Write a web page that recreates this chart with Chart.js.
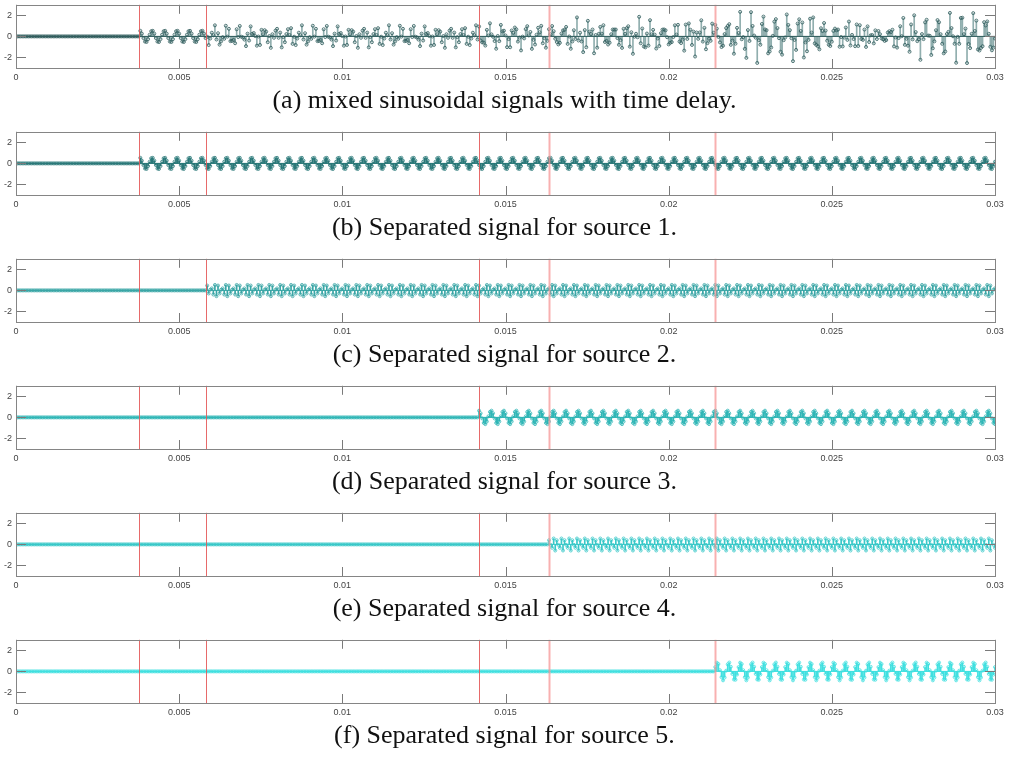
<!DOCTYPE html>
<html>
<head>
<meta charset="utf-8">
<script src="https://cdn.jsdelivr.net/npm/chart.js@4.4.1/dist/chart.umd.min.js"></script>
<style>
    body { margin: 0; background: #fff; width: 1009px; height: 760px; position: relative; overflow: hidden; }
    canvas { position: absolute; left: 0; }
    .cap {
        position: absolute; left: 0; width: 1009px; text-align: center;
        font-family: "Liberation Serif", "Times New Roman", serif;
        font-size: 26px; line-height: 26px; color: #111;
    }
</style>
</head>
<body>
<script>
        const sampleRate = 21000;
        const timeSpan = 0.03;
        const xTicks = [0, 0.005, 0.01, 0.015, 0.02, 0.025, 0.03];
        const yTicks = [-2, 0, 2];

        // when each source switches on (also the red marker lines)
        const onsetTimes = [0.00377, 0.00582, 0.01419, 0.01633, 0.02142];

        // one repeating stretch of samples for each source
        const source1 = [0.53, 0.26, -0.16, -0.49, -0.53, -0.26, 0.16, 0.49];
        const source2 = [0.46, -0.29, 0.06, 0.19, -0.39, 0.52, -0.55];
        const source3 = [0.64, 0.39, -0.10, -0.52, -0.64, -0.39, 0.10, 0.52];
        const source4 = [0.39, -0.04, -0.32, 0.56, -0.58];
        const source5 = [0.41, 0.83, 0.70, 0.11, -0.55, -0.85, -0.58, 0.07, 0.67, 0.84, 0.44, -0.24, -0.77, -0.79, -0.30];

        const captions = [
            '(a) mixed sinusoidal signals with time delay.',
            '(b) Separated signal for source 1.',
            '(c) Separated signal for source 2.',
            '(d) Separated signal for source 3.',
            '(e) Separated signal for source 4.',
            '(f) Separated signal for source 5.'
        ];
        const markerColors = ['#2d5a5a', '#2a7878', '#3aa6a6', '#30b6b6', '#38c8c8', '#40e0e0'];
        const stemColors = ['rgba(70,120,120,0.6)', '#2a7878', '#3aa6a6', '#30b6b6', '#38c8c8', '#40e0e0'];

        const sources = [source1, source2, source3, source4, source5];
        const sampleCount = Math.round(timeSpan * sampleRate) + 1;
        const times = [];
        for (let n = 0; n < sampleCount; n++) times.push(n / sampleRate);

        const separated = sources.map((pattern, s) => {
            const start = Math.ceil(onsetTimes[s] * sampleRate);
            return times.map((t, n) => n >= start ? pattern[(n - start) % pattern.length] : 0);
        });
        const mixed = times.map((t, n) => separated.reduce((sum, sig) => sum + sig[n], 0));
        const panels = [mixed].concat(separated);

        const frameTicks = {
            id: 'frameTicks',
            afterDatasetsDraw(chart) {
                const ctx = chart.ctx;
                const a = chart.chartArea;
                const xs = chart.scales.x;
                const ys = chart.scales.y;
                ctx.save();

                onsetTimes.forEach((t, i) => {
                    const px = Math.round(xs.getPixelForValue(t)) + 0.5;
                    ctx.strokeStyle = i < 3 ? 'rgba(228,90,90,0.9)' : 'rgba(245,150,150,0.75)';
                    ctx.lineWidth = i < 3 ? 1 : 2;
                    ctx.beginPath();
                    ctx.moveTo(px, a.top);
                    ctx.lineTo(px, a.bottom);
                    ctx.stroke();
                });

                ctx.strokeStyle = '#7a7a7a';
                ctx.lineWidth = 1;
                ctx.beginPath();
                yTicks.forEach(v => {
                    const py = Math.round(ys.getPixelForValue(v)) + 0.5;
                    ctx.moveTo(a.left, py); ctx.lineTo(a.left + 10, py);
                    ctx.moveTo(a.right, py); ctx.lineTo(a.right - 10, py);
                });
                xTicks.forEach(v => {
                    const px = Math.round(xs.getPixelForValue(v)) + 0.5;
                    ctx.moveTo(px, a.bottom); ctx.lineTo(px, a.bottom - 9);
                    ctx.moveTo(px, a.top); ctx.lineTo(px, a.top + 9);
                });
                ctx.stroke();

                ctx.strokeStyle = '#858585';
                ctx.strokeRect(Math.round(a.left) + 0.5, Math.round(a.top) + 0.5,
                    Math.round(a.right - a.left), Math.round(a.bottom - a.top));
                ctx.restore();
            }
        };

        const tickFont = { family: '"Liberation Sans", Arial, sans-serif', size: 9 };

        function makePanel(idx) {
            const values = panels[idx];
            const canvas = document.createElement('canvas');
            canvas.width = 1009;
            canvas.height = 86;
            canvas.style.top = (127 * idx) + 'px';
            document.body.appendChild(canvas);

            const cap = document.createElement('div');
            cap.className = 'cap';
            cap.style.top = (87 + 127 * idx) + 'px';
            cap.textContent = captions[idx];
            document.body.appendChild(cap);

            const stems = values.map((v, i) => ({ x: times[i], y: [0, v] }));
            const points = values.map((v, i) => ({ x: times[i], y: v }));

            new Chart(canvas, {
                type: 'bar',
                data: {
                    datasets: [
                        {
                            type: 'bar',
                            data: stems,
                            backgroundColor: stemColors[idx],
                            barThickness: 1,
                            borderWidth: 0,
                            order: 3
                        },
                        {
                            type: 'line',
                            data: [{ x: 0, y: 0 }, { x: timeSpan, y: 0 }],
                            borderColor: markerColors[idx],
                            borderWidth: 1,
                            pointRadius: 0,
                            order: 2
                        },
                        {
                            type: 'scatter',
                            data: points,
                            showLine: false,
                            pointRadius: 1.5,
                            pointBorderWidth: 0.8,
                            pointBorderColor: markerColors[idx],
                            pointBackgroundColor: 'rgba(255,255,255,0)',
                            order: 1
                        }
                    ]
                },
                options: {
                    responsive: false,
                    animation: false,
                    events: [],
                    layout: { padding: { top: 4, right: 14, left: 0, bottom: 0 } },
                    plugins: { legend: { display: false }, tooltip: { enabled: false } },
                    scales: {
                        x: {
                            type: 'linear',
                            min: 0,
                            max: timeSpan,
                            offset: false,
                            grid: { display: false, drawTicks: false },
                            border: { display: false },
                            afterBuildTicks: s => { s.ticks = xTicks.map(v => ({ value: v })); },
                            afterFit: s => { s.height = 18; s.paddingLeft = 0; s.paddingRight = 0; },
                            ticks: {
                                font: tickFont, color: '#444', padding: 4,
                                maxRotation: 0, autoSkip: false,
                                callback: v => String(v)
                            }
                        },
                        y: {
                            min: -3,
                            max: 3,
                            grid: { display: false, drawTicks: false },
                            border: { display: false },
                            afterBuildTicks: s => { s.ticks = yTicks.map(v => ({ value: v })); },
                            afterFit: s => { s.width = 16; s.paddingTop = 0; s.paddingBottom = 0; },
                            ticks: {
                                font: tickFont, color: '#444', padding: 4,
                                callback: v => String(v)
                            }
                        }
                    }
                },
                plugins: [frameTicks]
            });
        }

        for (let i = 0; i < panels.length; i++) makePanel(i);
</script>
</body>
</html>
